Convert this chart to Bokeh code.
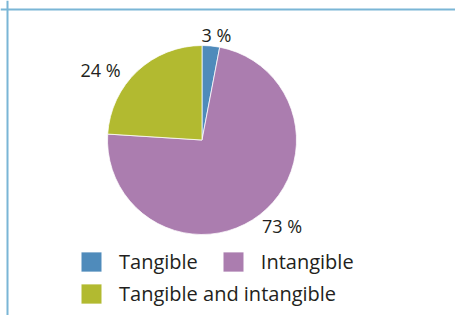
import numpy as np
from bokeh.plotting import figure
from bokeh.models import Range1d, Span, Legend, LegendItem, ColumnDataSource
from bokeh.core.properties import value
from bokeh.embed import file_html
from bokeh.resources import INLINE

# ---- data ----
categories = ["Tangible", "Intangible", "Tangible and intangible"]
shares = [3, 73, 24]
labels = ["3 %", "73 %", "24 %"]

# ---- style ----
colors = ["#4F8BBB", "#AB7DAF", "#B2BA30"]
frame_color = "#7AB6D6"
text_color = "#231F20"
FONT = "Open Sans"
label_x_off = [4.5, 14.7, -28.5]
label_y_off = [1.5, 1.4, 7.6]

W, H = 455, 315
cx_px, cy_px = 201.5, 139.5   # pie centre (canvas px from top-left)
r = 94.5

x_range = Range1d(-cx_px, W - cx_px)
y_range = Range1d(-(H - cy_px), cy_px)

p = figure(width=W, height=H, x_range=x_range, y_range=y_range,
           output_backend="svg", toolbar_location=None,
           x_axis_location=None, y_axis_location=None, min_border=0)
p.outline_line_color = None
for g in p.grid:
    g.visible = False

frac = np.array(shares, dtype=float) / sum(shares)
cum = np.concatenate([[0.0], np.cumsum(frac)])
start = np.pi / 2 - 2 * np.pi * cum[:-1]
end = np.pi / 2 - 2 * np.pi * cum[1:]
mid = (start + end) / 2
R_lab = r + 12

src = ColumnDataSource(dict(
    cat=categories, start=start, end=end, color=colors,
    lx=R_lab * np.cos(mid), ly=R_lab * np.sin(mid), label=labels,
    xo=label_x_off, yo=label_y_off,
))

w = p.wedge(x=0, y=0, radius=r, start_angle="start", end_angle="end",
            direction="clock", fill_color="color", line_color="white",
            line_width=0.75, source=src)

p.text(x="lx", y="ly", text="label", x_offset="xo", y_offset="yo",
       text_align="center", text_baseline="middle",
       text_font=value(FONT), text_font_size="18px", text_color=text_color,
       source=src)

# frame lines (top and left)
p.add_layout(Span(location=x_range.start + 7, dimension="height",
                  line_color=frame_color, line_width=2))
p.add_layout(Span(location=y_range.end - 9, dimension="width",
                  line_color=frame_color, line_width=2))

def make_legend(idx, loc):
    lg = Legend(items=[LegendItem(label=categories[i], renderers=[w], index=i) for i in idx],
                orientation="horizontal", location=loc)
    lg.glyph_width = 26
    lg.glyph_height = 25
    lg.label_height = 20
    lg.label_standoff = 15
    lg.spacing = 22
    lg.padding = 0
    lg.margin = 0
    lg.border_line_color = None
    lg.background_fill_alpha = 0
    lg.label_text_font = FONT
    lg.label_text_font_size = "20px"
    lg.label_text_color = text_color
    return lg

p.add_layout(make_legend([0, 1], (78, 40)))
p.add_layout(make_legend([2], (78, 8)))

open("out.html", "w").write(file_html(p, INLINE))
